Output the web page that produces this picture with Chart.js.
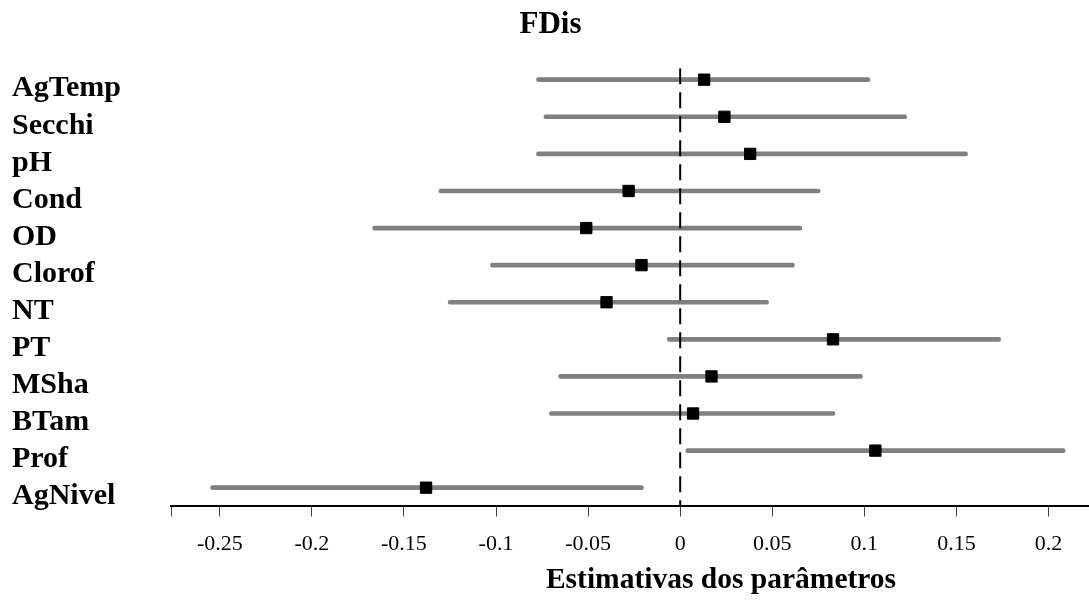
<!DOCTYPE html>
<html lang="pt">
<head>
    <meta charset="UTF-8">
    <title>FDis</title>
    <script src="https://cdn.jsdelivr.net/npm/chart.js@4"></script>
    <style>
        body { margin: 0; background: #fff; }
        canvas { display: block; }
    </style>
</head>
<body>
    <canvas id="fdisChart" width="1089" height="603"></canvas>

    <script>
        // variaveis (de cima para baixo)
        const variables = ['AgTemp', 'Secchi', 'pH', 'Cond', 'OD', 'Clorof', 'NT', 'PT', 'MSha', 'BTam', 'Prof', 'AgNivel'];
        const estimates = [0.013, 0.024, 0.038, -0.028, -0.051, -0.021, -0.040, 0.083, 0.017, 0.007, 0.106, -0.138];
        const lowerCI   = [-0.078, -0.074, -0.078, -0.131, -0.167, -0.103, -0.126, -0.007, -0.066, -0.071, 0.003, -0.255];
        const upperCI   = [0.103, 0.123, 0.156, 0.076, 0.066, 0.062, 0.048, 0.174, 0.099, 0.084, 0.209, -0.020];

        const xTickValues = [-0.25, -0.2, -0.15, -0.1, -0.05, 0, 0.05, 0.1, 0.15, 0.2];
        const xTickLabels = ['-0.25', '-0.2', '-0.15', '-0.1', '-0.05', '0', '0.05', '0.1', '0.15', '0.2'];
        const xMin = -0.2765, xMax = 0.222;
        const yMin = -0.31, yMax = 11.48;

        const serif = '"Liberation Serif", "Times New Roman", serif';

        // titulo do eixo x (fica deslocado para a direita no original)
        const axisTitle = {
            id: 'axisTitle',
            afterDraw(chart) {
                const ctx = chart.ctx;
                const area = chart.chartArea;
                ctx.save();
                ctx.font = 'bold 29.5px ' + serif;
                ctx.fillStyle = '#000';
                ctx.textAlign = 'center';
                ctx.textBaseline = 'middle';
                ctx.fillText('Estimativas dos parâmetros', (area.left + area.right) / 2 + 91, 580);
                ctx.restore();
            }
        };

        const ctx = document.getElementById('fdisChart').getContext('2d');
        new Chart(ctx, {
            type: 'bar',
            data: {
                datasets: [
                    {
                        type: 'scatter',
                        data: estimates.map((v, i) => ({ x: v, y: i })),
                        pointStyle: 'rect',
                        pointRadius: 8,
                        pointBorderWidth: 1,
                        backgroundColor: '#000',
                        borderColor: '#000'
                    },
                    {
                        type: 'line',
                        data: [{ x: 0, y: yMin }, { x: 0, y: yMax }],
                        borderColor: '#000',
                        borderWidth: 2,
                        borderDash: [16, 8],
                        pointRadius: 0,
                        fill: false
                    },
                    {
                        type: 'bar',
                        indexAxis: 'y',
                        data: lowerCI.map((lo, i) => ({ x: [lo, upperCI[i]], y: i })),
                        backgroundColor: '#808080',
                        barThickness: 4,
                        borderRadius: 2,
                        borderSkipped: false
                    }
                ]
            },
            options: {
                responsive: false,
                animation: false,
                layout: { autoPadding: false, padding: { left: 12, right: 0, top: 0, bottom: 0 } },
                plugins: {
                    legend: { display: false },
                    tooltip: { enabled: false },
                    title: {
                        display: true,
                        text: 'FDis',
                        color: '#000',
                        font: { family: serif, size: 31, weight: 'bold' },
                        padding: { top: 6, bottom: 25 }
                    }
                },
                scales: {
                    x: {
                        type: 'linear',
                        offset: false,
                        beginAtZero: false,
                        min: xMin,
                        max: xMax,
                        afterBuildTicks: scale => {
                            scale.ticks = [{ value: xMin }].concat(xTickValues.map(v => ({ value: v })));
                        },
                        afterFit: scale => { scale.height = 97.5; },
                        ticks: {
                            color: '#000',
                            padding: 15,
                            maxRotation: 0,
                            autoSkip: false,
                            font: { family: serif, size: 22 },
                            callback: (v, i) => i === 0 ? '' : xTickLabels[i - 1]
                        },
                        grid: {
                            offset: false,
                            drawOnChartArea: false,
                            drawTicks: true,
                            tickLength: 11,
                            tickColor: '#444',
                            tickWidth: 1
                        },
                        border: { display: true, color: '#000', width: 2 }
                    },
                    y: {
                        type: 'linear',
                        offset: false,
                        reverse: true,
                        min: yMin,
                        max: yMax,
                        afterBuildTicks: scale => {
                            scale.ticks = variables.map((v, i) => ({ value: i }));
                        },
                        afterFit: scale => { scale.width = 159; },
                        ticks: {
                            color: '#000',
                            crossAlign: 'far',
                            labelOffset: 9,
                            padding: 0,
                            autoSkip: false,
                            font: { family: serif, size: 30, weight: 'bold' },
                            callback: v => variables[v]
                        },
                        grid: { display: false, offset: false },
                        border: { display: false }
                    }
                }
            },
            plugins: [axisTitle]
        });
    </script>
</body>
</html>
